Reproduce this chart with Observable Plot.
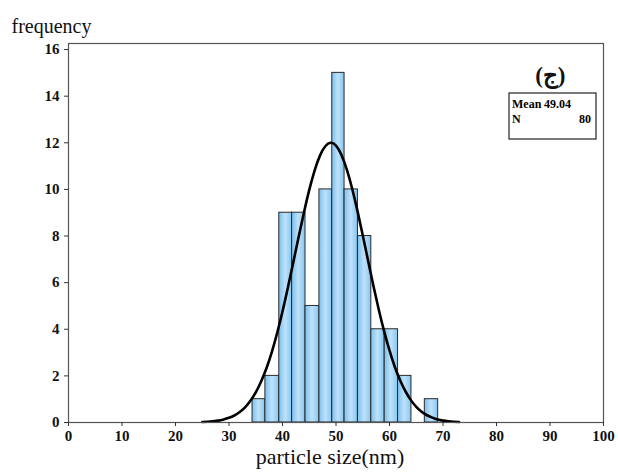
<!DOCTYPE html>
<html>
<head>
<meta charset="utf-8">
<script src="https://cdn.jsdelivr.net/npm/d3@7"></script>
<script src="https://cdn.jsdelivr.net/npm/@observablehq/plot@0.6"></script>
<style>
  html, body { margin: 0; padding: 0; background: #fff; }
</style>
</head>
<body>
<div id="chart"></div>
<script>
// Histogram bins (nm) and counts
const binStart = [34.4, 36.8, 39.4, 41.8, 44.3, 46.9, 49.3, 51.6, 54.1, 56.6, 59.1, 61.6, 64.1, 66.6];
const binEnd   = [36.8, 39.4, 41.8, 44.3, 46.9, 49.3, 51.6, 54.1, 56.6, 59.1, 61.6, 64.1, 66.6, 69.1];
const counts   = [1, 2, 9, 9, 5, 10, 15, 10, 8, 4, 4, 2, 0, 1];

// Fitted normal curve
const curveX = [25, 26, 27, 28, 29, 30, 31, 32, 33, 34, 35, 36, 37, 38, 39, 40, 41, 42, 43, 44, 45, 46, 47, 48, 49,
                50, 51, 52, 53, 54, 55, 56, 57, 58, 59, 60, 61, 62, 63, 64, 65, 66, 67, 68, 69, 70, 71, 72, 73];
const curveY = [0.02, 0.03, 0.05, 0.08, 0.13, 0.20, 0.30, 0.45, 0.65, 0.93, 1.29, 1.76, 2.33, 3.02, 3.84, 4.76, 5.78, 6.85, 7.95, 9.0, 9.98, 10.81, 11.45, 11.85, 12.0,
                11.88, 11.49, 10.87, 10.05, 9.09, 8.03, 6.94, 5.86, 4.84, 3.91, 3.09, 2.38, 1.80, 1.33, 0.96, 0.67, 0.46, 0.31, 0.21, 0.13, 0.08, 0.05, 0.03, 0.02];

const xTicks = [0, 10, 20, 30, 40, 50, 60, 70, 80, 90, 100];
const yTicks = [0, 2, 4, 6, 8, 10, 12, 14, 16];

const statLabels = ["Mean", "N"];
const statValues = ["49.04", "80"];
const panelLabel = "(ج)";
const yTitle = "frequency";
const xTitle = "particle size(nm)";

const bars = binStart.map((s, i) => ({x1: s, x2: binEnd[i], y: counts[i]})).filter(d => d.y > 0);
const curve = curveX.map((x, i) => ({x, y: curveY[i]}));

const serif = "'Liberation Serif', 'Times New Roman', serif";

const plot = Plot.plot({
  width: 618,
  height: 475,
  marginLeft: 68,
  marginRight: 15,
  marginTop: 43,
  marginBottom: 53,
  style: {fontFamily: serif, background: "#fff", color: "#111"},
  x: {domain: [0, 100], ticks: xTicks},
  y: {domain: [0, 16.26], ticks: yTicks},
  marks: [
    Plot.rect(bars, {x1: "x1", x2: "x2", y1: 0, y2: "y", fill: "url(#barGrad)", stroke: "#2a2a2a", strokeWidth: 1}),
    Plot.line(curve, {x: "x", y: "y", curve: "natural", stroke: "#000", strokeWidth: 2.6}),
    Plot.frame({stroke: "#555", strokeWidth: 1.2}),
    Plot.axisX({ticks: xTicks, tickSize: 4, tickPadding: 4, fontSize: 15, fontWeight: "bold", label: null, stroke: "#333"}),
    Plot.axisY({ticks: yTicks, tickSize: 4, tickPadding: 5, fontSize: 15, fontWeight: "bold", label: null, stroke: "#333"}),
    Plot.text([yTitle], {frameAnchor: "top-left", dx: -57, dy: -25, textAnchor: "start", fontSize: 20}),
    Plot.text([xTitle], {frameAnchor: "bottom", dx: -6, dy: 41, fontSize: 22}),
    Plot.text([panelLabel], {frameAnchor: "top-right", dx: -38, dy: 23, fontSize: 23, fontWeight: "bold"})
  ]
});

// Gradient for the bars
const svg = d3.select(plot);
const defs = svg.insert("defs", ":first-child");
const grad = defs.append("linearGradient").attr("id", "barGrad").attr("x1", "0").attr("x2", "1").attr("y1", "0").attr("y2", "0");
grad.append("stop").attr("offset", "0%").attr("stop-color", "#7cc0ee");
grad.append("stop").attr("offset", "50%").attr("stop-color", "#bfe2fa");
grad.append("stop").attr("offset", "100%").attr("stop-color", "#86c6f0");

// Statistics box (legend-like annotation, anchored to the top-right of the frame)
const frameRight = 618 - 15, frameTop = 43;
const box = svg.append("g").attr("font-family", serif).attr("font-size", 12).attr("fill", "#000").attr("text-anchor", "start");
box.append("rect").attr("x", frameRight - 94).attr("y", frameTop + 50).attr("width", 87).attr("height", 46)
  .attr("fill", "#fff").attr("stroke", "#222").attr("stroke-width", 1.2);
statLabels.forEach((lab, i) => {
  const y = frameTop + 65 + i * 15;
  box.append("text").attr("x", frameRight - 91).attr("y", y).attr("text-anchor", "start").attr("font-weight", "bold").text(lab);
  if (i === 0) {
    box.append("text").attr("x", frameRight - 91 + 32).attr("y", y).attr("text-anchor", "start").attr("font-weight", "bold").text(statValues[i]);
  } else {
    box.append("text").attr("x", frameRight - 12).attr("y", y).attr("text-anchor", "end").attr("font-weight", "bold").text(statValues[i]);
  }
});

document.getElementById("chart").appendChild(plot);
</script>
</body>
</html>
